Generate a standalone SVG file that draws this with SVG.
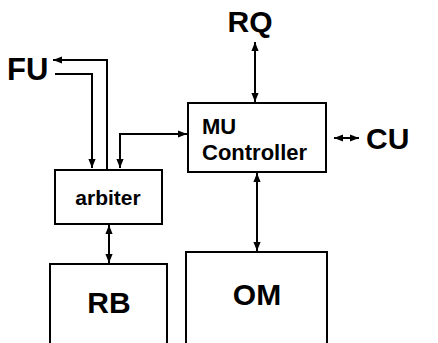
<svg xmlns="http://www.w3.org/2000/svg" width="438" height="343" viewBox="0 0 438 343">
<style>
.box{fill:#fff;stroke:#000;stroke-width:2}
.ln{fill:none;stroke:#000;stroke-width:2}
.t{font-family:"Liberation Sans",Arial,sans-serif;font-weight:bold;fill:#000}
</style>
<defs>
<marker id="ah" viewBox="0 0 10 8" refX="10" refY="4" markerWidth="5.5" markerHeight="3.6" markerUnits="strokeWidth" orient="auto-start-reverse">
<path d="M0,0 L10,4 L0,8 Z" fill="#000"/>
</marker>
</defs>
<rect width="438" height="343" fill="#fff"/>
<g id="connectors">
<path class="ln" d="M107,169 V60 H53" marker-end="url(#ah)"/>
<path class="ln" d="M55,74 H92 V168" marker-end="url(#ah)"/>
<path class="ln" d="M120,168 V134 H187" marker-start="url(#ah)" marker-end="url(#ah)"/>
<path class="ln" d="M255,42 V102" marker-start="url(#ah)" marker-end="url(#ah)"/>
<path class="ln" d="M334,138 H359" marker-start="url(#ah)" marker-end="url(#ah)"/>
<path class="ln" d="M257,173 V251" marker-start="url(#ah)" marker-end="url(#ah)"/>
<path class="ln" d="M109,225 V263" marker-start="url(#ah)" marker-end="url(#ah)"/>
</g>
<g id="FU"><text class="t" x="7" y="80" font-size="31">FU</text></g>
<g id="RQ"><text class="t" x="250" y="32" font-size="30" text-anchor="middle">RQ</text></g>
<g id="CU"><text class="t" x="366" y="149" font-size="30">CU</text></g>
<g id="mu">
<rect class="box" x="188" y="103" width="138" height="69"/>
<text class="t" x="202" y="134" font-size="22">MU</text>
<text class="t" x="202" y="160" font-size="22">Controller</text>
</g>
<g id="arbiter">
<rect class="box" x="55" y="170" width="107" height="54"/>
<text class="t" x="108" y="205" font-size="21" text-anchor="middle">arbiter</text>
</g>
<g id="RB">
<rect class="box" x="50" y="264" width="117" height="100"/>
<text class="t" x="109" y="313" font-size="30" text-anchor="middle">RB</text>
</g>
<g id="OM">
<rect class="box" x="186" y="252" width="141" height="110"/>
<text class="t" x="257" y="305" font-size="30" text-anchor="middle">OM</text>
</g>
</svg>
